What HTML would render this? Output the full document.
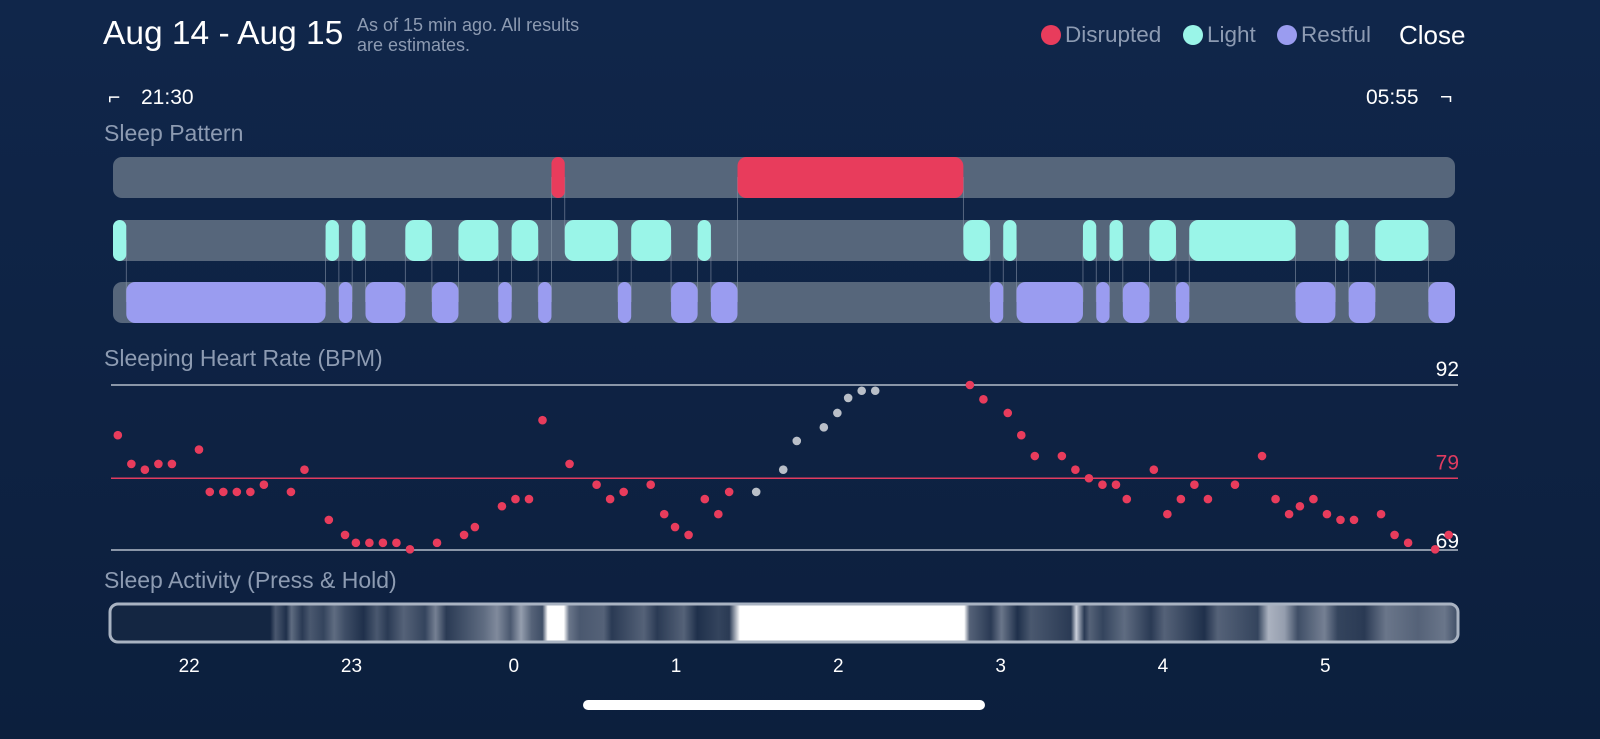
<!DOCTYPE html>
<html><head><meta charset="utf-8"><style>
html,body{margin:0;padding:0;width:1600px;height:739px;overflow:hidden;background:linear-gradient(#10264a,#0c1f3d);font-family:"Liberation Sans",sans-serif;}
.t{position:absolute;white-space:nowrap}
</style></head><body>
<div class="t" style="left:103px;top:15px;font-size:33.5px;color:#fff">Aug 14 - Aug 15</div>
<div class="t" style="left:357px;top:15px;font-size:18px;line-height:20px;color:#8d9bb2">As of 15 min ago. All results<br>are estimates.</div>
<div class="t" style="left:1041px;top:22px;font-size:22.5px;color:#8d9bb2"><span style="display:inline-block;width:20px;height:20px;border-radius:50%;background:#e83c5c;vertical-align:-3px;margin-right:4px"></span>Disrupted</div>
<div class="t" style="left:1183px;top:22px;font-size:22.5px;color:#8d9bb2"><span style="display:inline-block;width:20px;height:20px;border-radius:50%;background:#9af5e8;vertical-align:-3px;margin-right:4px"></span>Light</div>
<div class="t" style="left:1277px;top:22px;font-size:22.5px;color:#8d9bb2"><span style="display:inline-block;width:20px;height:20px;border-radius:50%;background:#9a9cf0;vertical-align:-3px;margin-right:4px"></span>Restful</div>
<div class="t" style="left:1399px;top:20px;font-size:26px;color:#fff">Close</div>
<div class="t" style="left:108px;top:86px;font-size:21px;color:#fff">⌐</div>
<div class="t" style="left:141px;top:86px;font-size:21px;color:#fff">21:30</div>
<div class="t" style="left:1366px;top:86px;font-size:21px;color:#fff">05:55</div>
<div class="t" style="left:1440px;top:86px;font-size:21px;color:#fff">¬</div>
<div class="t" style="left:104px;top:120px;font-size:23px;color:#8d9bb2">Sleep Pattern</div>
<div class="t" style="left:104px;top:345px;font-size:23px;color:#8d9bb2">Sleeping Heart Rate (BPM)</div>
<div class="t" style="left:104px;top:567px;font-size:23px;color:#8d9bb2">Sleep Activity (Press &amp; Hold)</div>
<svg id="c" width="1600" height="739" style="position:absolute;left:0;top:0"></svg>
<div style="position:absolute;left:583px;top:700px;width:402px;height:10px;border-radius:5px;background:#fff"></div>
<script>
// segments in minutes since 21:30
const disrupted=[[165,170],[235,320]];
const light=[[0,5],[80,85],[90,95],[110,120],[130,145],[150,160],[170,190],[195,210],[220,225],[320,330],[335,340],[365,370],[375,380],[390,400],[405,445],[460,465],[475,495]];
const restful=[[5,80],[85,90],[95,110],[120,130],[145,150],[160,165],[190,195],[210,220],[225,235],[330,335],[340,365],[370,375],[380,390],[400,405],[445,460],[465,475],[495,505]];
// heart rate: minutes since 21:30, bpm, grey flag
const hrMin=[4,9,14,19,24,34,38,43,48,53,58,68,73,82,88,92,97,102,107,112,122,132,136,146,151,156,161,171,181,186,191,201,206,210,215,221,226,230,240,250,255,265,270,274,279,284,319,324,333,338,343,353,358,363,368,373,377,387,392,397,402,407,417,427,432,437,441,446,451,456,461,471,476,481,491,496];
const hrBpm=[85,81,80.2,81,81,83,77.1,77.1,77.1,77.1,78.1,77.1,80.2,73.2,71.1,70,70,70,70,69.1,70,71.1,72.2,75.1,76.1,76.1,87.1,81,78.1,76.1,77.1,78.1,74,72.2,71.1,76.1,74,77.1,77.1,80.2,84.2,86.1,88.1,90.2,91.2,91.2,92,90,88.1,85,82.1,82.1,80.2,79,78.1,78.1,76.1,80.2,74,76.1,78.1,76.1,78.1,82.1,76.1,74,75.1,76.1,74,73.2,73.2,74,71.1,70,69.1,71.1];
const hrGrey=[38,39,40,41,42,43,44,45];
const refLines=[92,79,69];
const hourLabels=["22","23","0","1","2","3","4","5"];
const hourMin=[30,90,150,210,270,330,390,450];
// activity intensity keyed by minutes
const actMin=[0,60,62,66,68,72,75,80,84,88,95,100,104,110,118,122,126,140,145,150,154,158,162,164,166,170,172,176,185,188,200,205,215,220,228,232,236,238,318,320,322,330,334,340,345,360,362,365,367,372,380,390,395,410,415,430,434,440,445,455,460,470,478,490,500,505];
const actVal=[0,0,0.25,0.05,0.35,0.1,0.25,0.15,0.35,0.2,0.05,0.25,0.1,0.3,0.15,0.45,0.1,0.35,0.5,0.25,0.6,0.3,0.2,1,1,1,0.4,0.25,0.3,0.1,0.3,0.1,0.3,0.05,0.15,0.1,1,1,1,1,0.3,0.1,0.4,0.05,0.25,0.1,0.85,0.1,0.3,0.15,0.35,0.1,0.3,0.05,0.3,0.15,0.7,0.6,0.2,0.45,0.15,0.1,0.4,0.3,0.4,0.2];

const NS='http://www.w3.org/2000/svg';const svg=document.getElementById('c');
function mk(t,a,p){const e=document.createElementNS(NS,t);for(const k in a)e.setAttribute(k,a[k]);(p||svg).appendChild(e);return e;}
const tx=m=>113+m*(1342/505);      // track x
const hx=m=>107+m*2.705;          // time-axis x
const hy=b=>385+(92-b)*(165/23);  // bpm y
const rows=[[157,disrupted,'#e83c5c','disrupted'],[220,light,'#9af5e8','light'],[282,restful,'#9a9cf0','restful']];
rows.forEach(r=>{const bg=mk('rect',{x:113,y:r[0],width:1342,height:41,rx:9,fill:'#56667b'});

});
// connectors between the rows of the ending and starting stage
const stageAt=m=>{for(let i=0;i<3;i++){for(const s of rows[i][1]){if(m>=s[0]&&m<s[1])return i;}}return -1;};
const bset=new Set();[disrupted,light,restful].forEach(a=>a.forEach(s=>{bset.add(s[0]);bset.add(s[1]);}));
[...bset].forEach(m=>{if(m<=0||m>=505)return;const a=stageAt(m-0.5),b=stageAt(m+0.5);if(a<0||b<0||a==b)return;
const r1=Math.min(a,b),r2=Math.max(a,b);
const l=mk('line',{x1:tx(m),x2:tx(m),y1:rows[r1][0]+20,y2:rows[r2][0]+20,stroke:'#8a97aa','stroke-width':0.8,opacity:0.7});

});
rows.forEach(r=>{r[1].forEach(s=>{const w=tx(s[1])-tx(s[0]);const e=mk('rect',{x:tx(s[0]),y:r[0],width:w,height:41,rx:Math.min(9,w/2),fill:r[2]});

});});
// ref lines
refLines.forEach((b,i)=>{const c=i==1?'#e03c60':'#8a96a8';const l=mk('line',{x1:111,x2:1458,y1:hy(b),y2:hy(b),stroke:c,'stroke-width':i==1?1.5:2});


const t=mk('text',{x:1459,y:hy(b)-9+(i==2?7:0),'text-anchor':'end','font-size':21,fill:i==1?'#e03c60':'#fff'});t.textContent=b;

});
hrMin.forEach((m,i)=>{const d=mk('circle',{cx:hx(m),cy:hy(hrBpm[i]),r:4.3,fill:hrGrey.includes(i)?'#b9bfc8':'#e83c5c'});

});
// activity
const defs=mk('defs',{});const g=mk('linearGradient',{id:'ag',x1:0,x2:1,y1:0,y2:0},defs);
actMin.forEach((m,i)=>{const v=actVal[i];const c=v>=0.95?'#ffffff':`rgb(${Math.round(20+v*215)},${Math.round(38+v*200)},${Math.round(66+v*180)})`;mk('stop',{offset:(m/505),'stop-color':c},g);});
const ab=mk('rect',{x:110,y:604,width:1348,height:38,rx:8,fill:'url(#ag)',stroke:'#a9b3c2','stroke-width':3});


hourLabels.forEach((h,i)=>{const t=mk('text',{x:hx(hourMin[i])+1,y:672,'text-anchor':'middle','font-size':19,fill:'#fff'});t.textContent=h;

});
</script>
</body></html>
